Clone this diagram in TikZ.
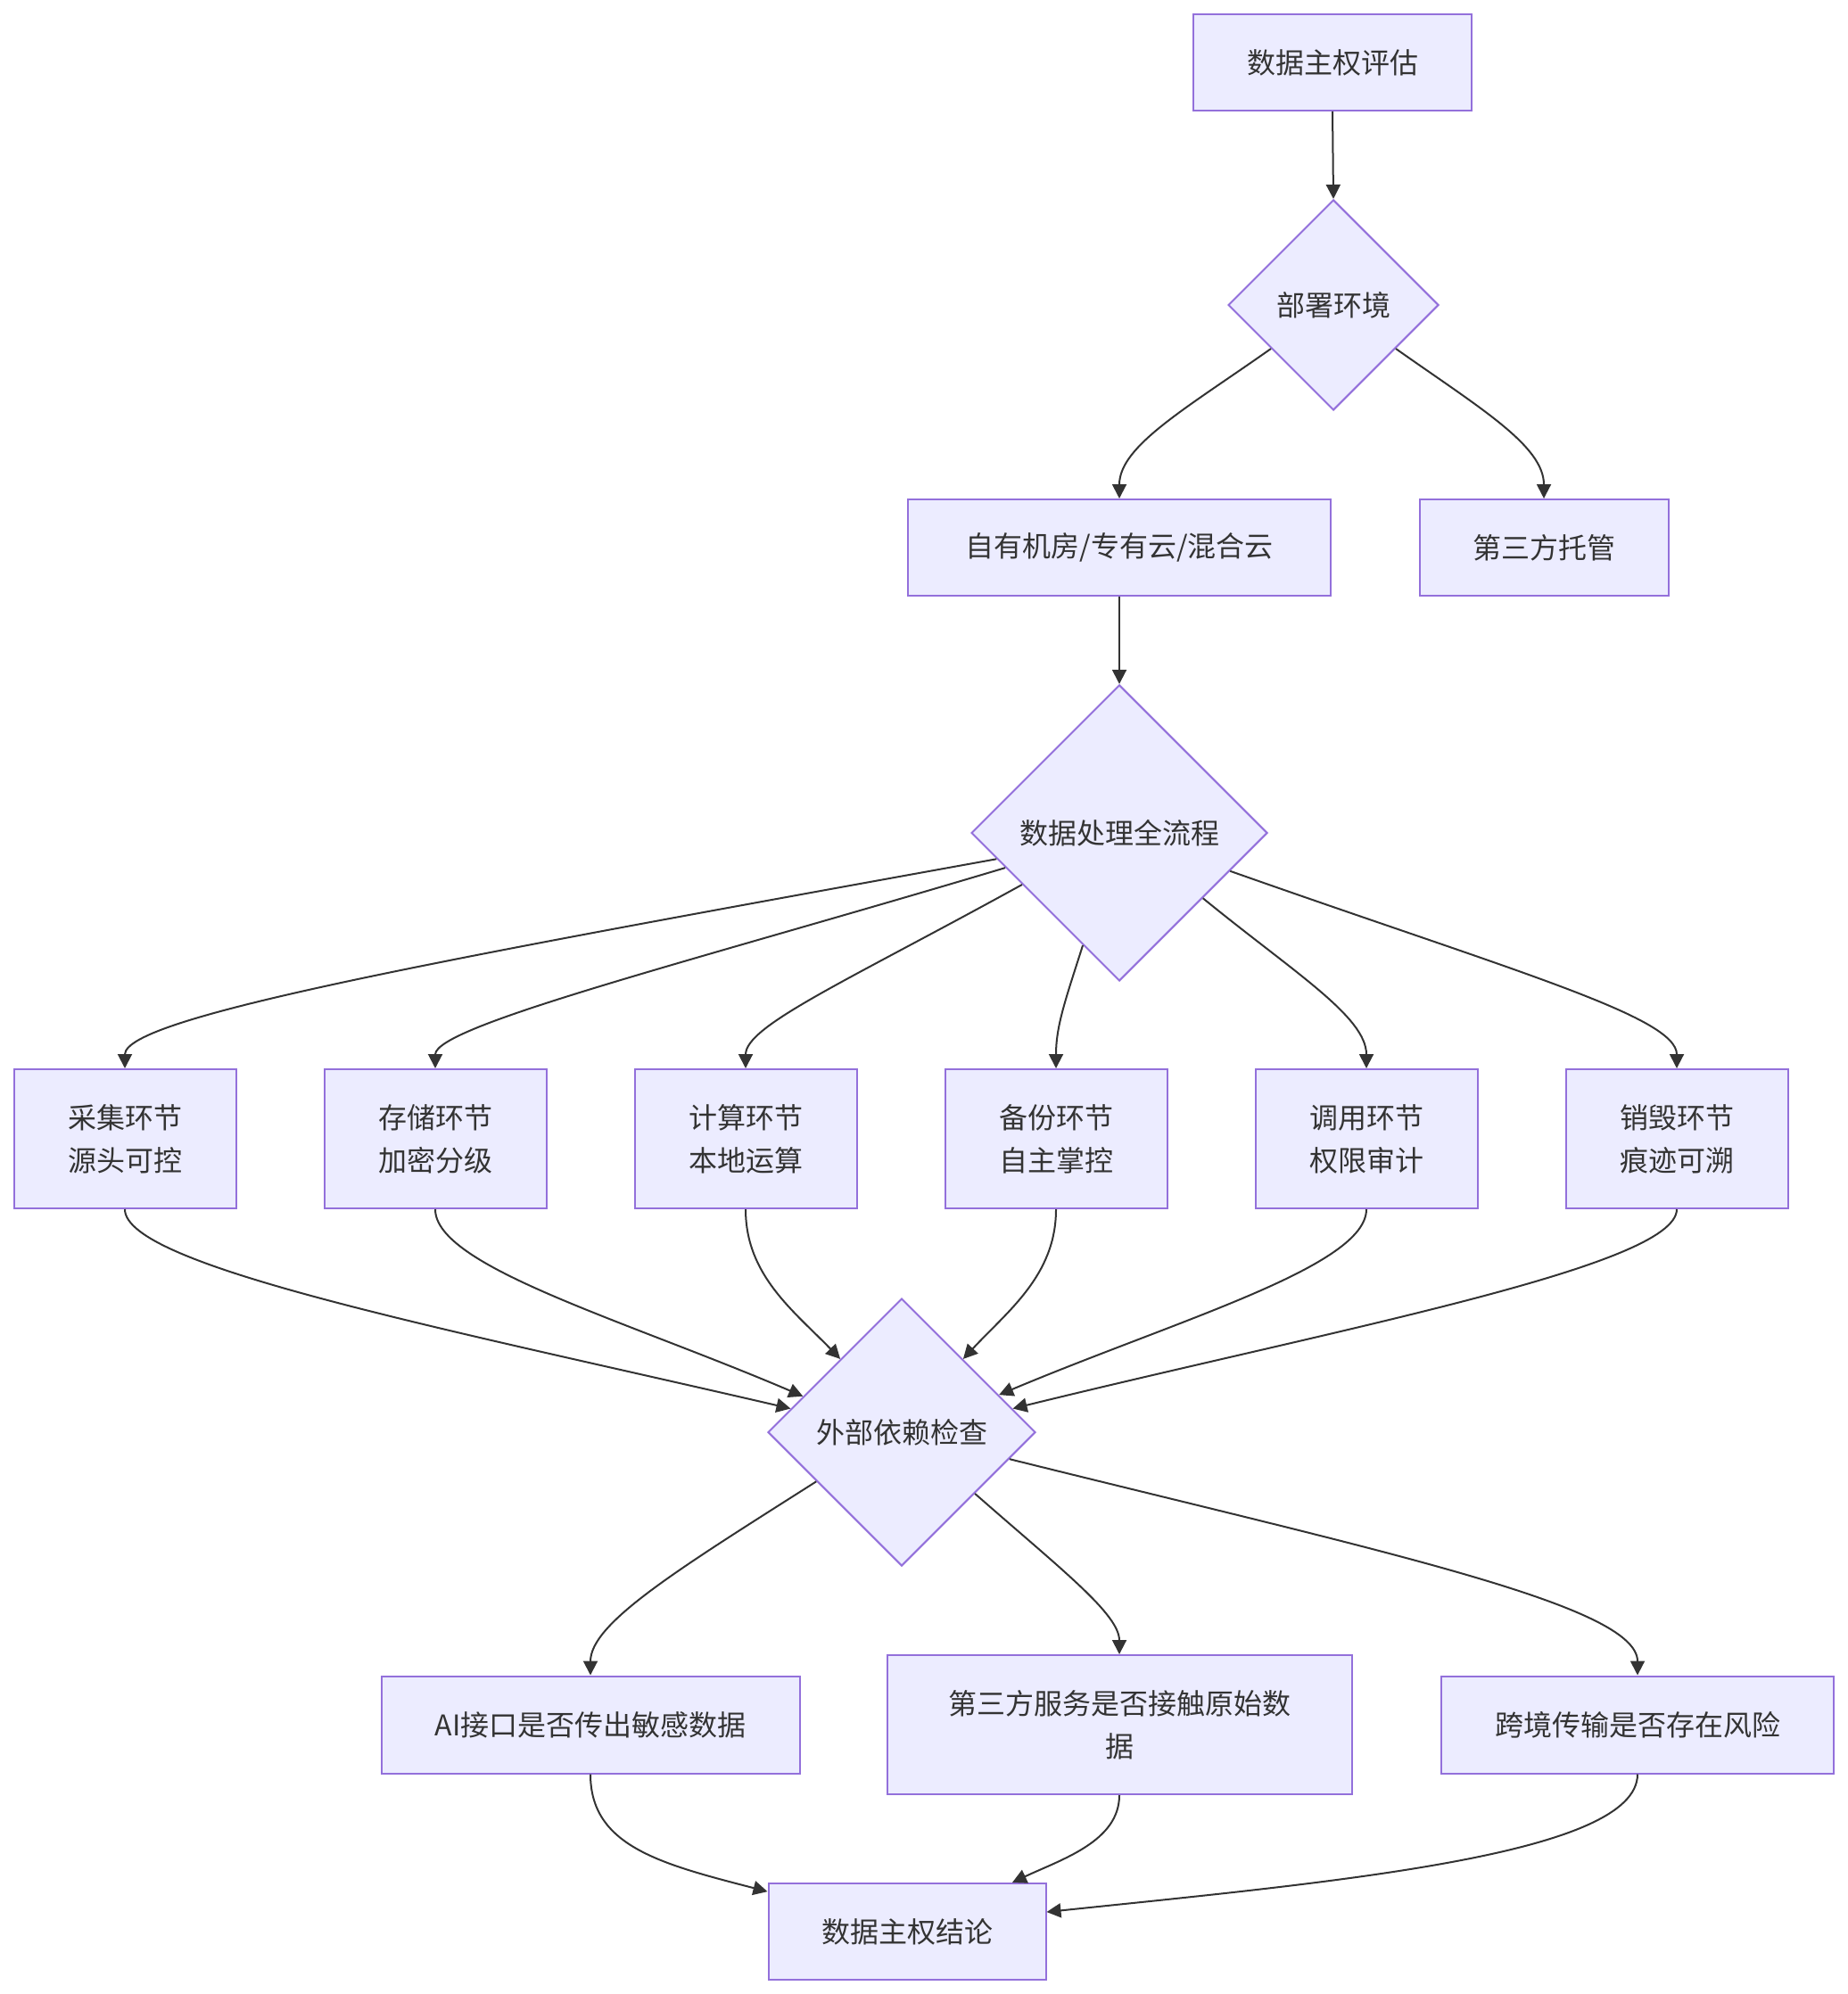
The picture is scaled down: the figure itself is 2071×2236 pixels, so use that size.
\documentclass[tikz,border=0pt]{standalone}
\usepackage{fontspec}
\setmainfont{Noto Sans CJK SC}
\usetikzlibrary{shapes.geometric,arrows.meta}
\definecolor{nodefill}{HTML}{ECECFF}
\definecolor{nodeline}{HTML}{9370DB}
\definecolor{edgecol}{HTML}{333333}
\definecolor{txt}{HTML}{333333}
\begin{document}
\begin{tikzpicture}[x=0.5pt,y=-0.5pt,
  box/.style={rectangle, draw=nodeline, fill=nodefill, line width=1pt, text=txt, inner sep=0pt, align=center, font=\fontsize{16pt}{24pt}\selectfont},
  dia/.style={diamond, aspect=1, draw=nodeline, fill=nodefill, line width=1pt, text=txt, inner sep=0pt, font=\fontsize{16pt}{24pt}\selectfont},
  edge/.style={draw=edgecol, line width=1pt, -{Triangle[length=8pt,width=8pt]}}]
\useasboundingbox[fill=white] (0,0) rectangle (2071,2236);

\node[box, minimum width=156pt, minimum height=54pt] (start) at (1494,70) {数据主权评估};
\node[dia, minimum size=118pt] (env) at (1495,342) {部署环境};
\node[box, minimum width=237pt, minimum height=54pt] (own) at (1255,614) {自有机房/专有云/混合云};
\node[box, minimum width=139.5pt, minimum height=54pt] (third) at (1731,614) {第三方托管};
\node[dia, minimum size=166pt] (proc) at (1255,934) {数据处理全流程};

\node[box, minimum width=124.5pt, minimum height=78pt] (s1) at (140,1277) {采集环节\\源头可控};
\node[box, minimum width=124.5pt, minimum height=78pt] (s2) at (488,1277) {存储环节\\加密分级};
\node[box, minimum width=124.5pt, minimum height=78pt] (s3) at (836,1277) {计算环节\\本地运算};
\node[box, minimum width=124.5pt, minimum height=78pt] (s4) at (1184,1277) {备份环节\\自主掌控};
\node[box, minimum width=124.5pt, minimum height=78pt] (s5) at (1532,1277) {调用环节\\权限审计};
\node[box, minimum width=124.5pt, minimum height=78pt] (s6) at (1880,1277) {销毁环节\\痕迹可溯};

\node[dia, minimum size=150pt] (ext) at (1011,1606) {外部依赖检查};

\node[box, minimum width=234.5pt, minimum height=54.5pt] (ai) at (662,1934) {AI接口是否传出敏感数据};
\node[box, minimum width=260.5pt, minimum height=78pt] (svc) at (1255,1934) {第三方服务是否接触原始数\\据};
\node[box, minimum width=220pt, minimum height=54.5pt] (cross) at (1836,1934) {跨境传输是否存在风险};
\node[box, minimum width=155.5pt, minimum height=54pt] (concl) at (1017,2166) {数据主权结论};

% top
\draw[edge] (start.south) -- (env.north);
\draw[edge] (env.-145) .. controls (1330,458) and (1255,500) .. (own.north);
\draw[edge] (env.-35) .. controls (1660,458) and (1731,500) .. (third.north);
\draw[edge] (own.south) -- (proc.north);

% fan out
\draw[edge] (proc.-168) .. controls (500,1075) and (140,1140) .. (s1.north);
\draw[edge] (proc.-163) .. controls (780,1077) and (488,1150) .. (s2.north);
\draw[edge] (proc.-152) .. controls (950,1100) and (836,1150) .. (s3.north);
\draw[edge] (proc.-108) .. controls (1195,1120) and (1184,1150) .. (s4.north);
\draw[edge] (proc.-38) .. controls (1450,1090) and (1532,1140) .. (s5.north);
\draw[edge] (proc.-19) .. controls (1700,1090) and (1880,1140) .. (s6.north);

% fan in
\draw[edge] (s1.south) .. controls (140,1420) and (500,1490) .. (ext.168);
\draw[edge] (s2.south) .. controls (488,1420) and (700,1480) .. (ext.160);
\draw[edge] (s3.south) .. controls (836,1430) and (890,1470) .. (ext.130);
\draw[edge] (s4.south) .. controls (1184,1430) and (1130,1470) .. (ext.50);
\draw[edge] (s5.south) .. controls (1532,1420) and (1320,1480) .. (ext.21);
\draw[edge] (s6.south) .. controls (1880,1420) and (1500,1490) .. (ext.12);

% checks
\draw[edge] (ext.-150) .. controls (760,1760) and (662,1820) .. (ai.north);
\draw[edge] (ext.-40) .. controls (1190,1760) and (1255,1810) .. (svc.north);
\draw[edge] (ext.-14) .. controls (1550,1740) and (1836,1800) .. (cross.north);

% conclusion
\draw[edge] (ai.south) .. controls (662,2070) and (740,2090) .. (concl.164);
\draw[edge] (svc.south) .. controls (1255,2065) and (1190,2085) .. (concl.25);
\draw[edge] (cross.south) .. controls (1836,2080) and (1500,2110) .. (concl.8);
\end{tikzpicture}
\end{document}
